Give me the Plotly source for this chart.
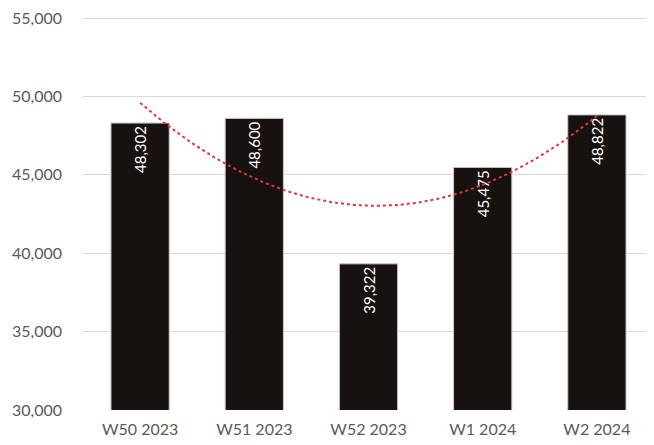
import numpy as np
import plotly.graph_objects as go

categories = ["W50 2023", "W51 2023", "W52 2023", "W1 2024", "W2 2024"]
values = [48302, 48600, 39322, 45475, 48822]
y_ticks = [30000, 35000, 40000, 45000, 50000, 55000]

# Order-2 polynomial trendline fitted to the data (as in the original chart)
xi = np.arange(len(values))
coef = np.polyfit(xi, values, 2)
xs = np.linspace(0, len(values) - 1, 200)
trend = np.polyval(coef, xs)

fig = go.Figure()
fig.add_trace(go.Bar(
    x=xi, y=values,
    marker=dict(color="#17120f", line=dict(color="#c8c8c8", width=1)),
    text=[f"{v:,}" for v in values],
    textposition="inside", insidetextanchor="end", textangle=-90,
    textfont=dict(color="white", size=15, family="Lato"),
    cliponaxis=False, showlegend=False,
))
fig.add_trace(go.Scatter(
    x=xs, y=trend, mode="lines",
    line=dict(color="#e0363a", width=2, dash="dot"),
    showlegend=False, hoverinfo="skip",
))
# page body has an 8px default margin, so the figure is sized to fit the window
fig.update_layout(
    width=646, height=437,
    margin=dict(l=75, r=0, t=6, b=35),
    paper_bgcolor="white", plot_bgcolor="white",
    bargap=0.49,
    font=dict(family="Lato", color="#5a5a5a", size=16),
)
fig.update_xaxes(
    tickmode="array", tickvals=list(xi), ticktext=categories,
    range=[-0.5, len(values) - 0.5], showgrid=False, showline=False,
    zeroline=False, ticks="", ticklabelstandoff=8, ticklabeloverflow="allow",
)
fig.update_yaxes(
    range=[30000, 55130], tickvals=y_ticks, tickformat=",",
    showgrid=True, gridcolor="#d9d9d9", gridwidth=1,
    zeroline=False, showline=False, ticks="", ticklabelstandoff=20,
    ticklabeloverflow="allow",
)
fig.write_html("out.html")
